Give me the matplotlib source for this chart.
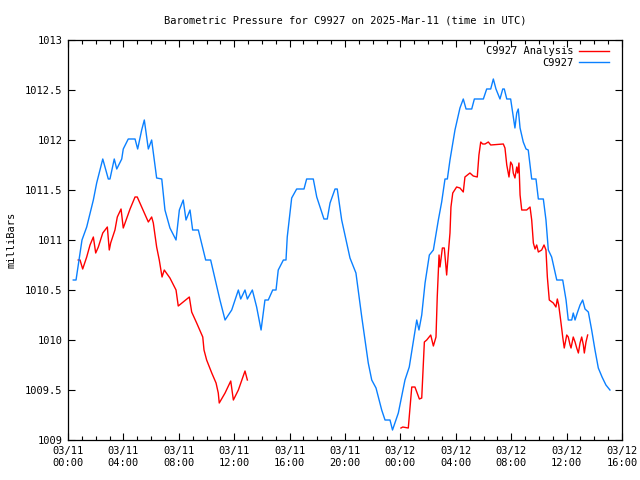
import numpy as np
import matplotlib
matplotlib.use("Agg")
import matplotlib.pyplot as plt
from matplotlib.ticker import MultipleLocator

# hours after 2025-03-11 00:00 UTC, pressure in mb
station_hours = [
    0.38, 0.58, 0.87, 1.01, 1.35, 1.83, 2.07, 2.51, 2.91, 3.03, 3.34, 3.52, 3.88, 3.99,
    4.35, 4.84, 5.03, 5.32, 5.51, 5.80, 6.04, 6.40, 6.77, 7.00, 7.36, 7.80, 8.04, 8.32,
    8.52, 8.81, 9.00, 9.41, 9.94, 10.30, 10.97, 11.34, 11.82, 12.30, 12.47, 12.78, 12.95,
    13.31, 13.62, 13.94, 14.22, 14.46, 14.78, 15.02, 15.18, 15.55, 15.74, 15.83, 16.15,
    16.51, 17.04, 17.23, 17.71, 17.96, 18.48, 18.72, 18.92, 19.28, 19.44, 19.76, 20.36,
    20.79, 21.21, 21.68, 21.93, 22.24, 22.65, 22.89, 23.25, 23.43, 23.85, 24.33, 24.64,
    24.93, 25.18, 25.34, 25.54, 25.78, 26.09, 26.38, 26.74, 26.98, 27.22, 27.39, 27.58,
    27.94, 28.30, 28.54, 28.74, 29.15, 29.34, 29.99, 30.23, 30.52, 30.71, 30.90, 31.19,
    31.39, 31.50, 31.68, 31.96, 32.11, 32.27, 32.40, 32.51, 32.64, 32.87, 33.07, 33.23,
    33.48, 33.79, 33.96, 34.32, 34.51, 34.68, 34.92, 35.29, 35.72, 35.96, 36.12, 36.37,
    36.48, 36.61, 36.77, 36.97, 37.16, 37.33, 37.57, 37.81, 38.05, 38.29, 38.56, 38.84,
    39.13,
]
station_mb = [
    1010.60, 1010.60, 1010.87, 1011.00, 1011.13, 1011.40, 1011.57, 1011.81, 1011.61,
    1011.61, 1011.81, 1011.71, 1011.81, 1011.91, 1012.01, 1012.01, 1011.91, 1012.10,
    1012.20, 1011.91, 1012.00, 1011.62, 1011.61, 1011.30, 1011.12, 1011.00, 1011.30,
    1011.40, 1011.20, 1011.30, 1011.10, 1011.10, 1010.80, 1010.80, 1010.40, 1010.20,
    1010.30, 1010.50, 1010.41, 1010.50, 1010.41, 1010.50, 1010.33, 1010.10, 1010.40,
    1010.40, 1010.50, 1010.50, 1010.70, 1010.80, 1010.80, 1011.03, 1011.42, 1011.51,
    1011.51, 1011.61, 1011.61, 1011.43, 1011.21, 1011.21, 1011.37, 1011.51, 1011.51,
    1011.20, 1010.82, 1010.67, 1010.23, 1009.77, 1009.60, 1009.52, 1009.30, 1009.20,
    1009.20, 1009.10, 1009.27, 1009.60, 1009.73, 1009.98, 1010.20, 1010.10, 1010.25,
    1010.57, 1010.85, 1010.90, 1011.20, 1011.38, 1011.61, 1011.61, 1011.80, 1012.10,
    1012.32, 1012.41, 1012.31, 1012.31, 1012.41, 1012.41, 1012.51, 1012.51, 1012.61,
    1012.51, 1012.41, 1012.51, 1012.51, 1012.41, 1012.41, 1012.27, 1012.12, 1012.27,
    1012.31, 1012.12, 1011.98, 1011.91, 1011.90, 1011.61, 1011.61, 1011.41, 1011.41,
    1011.20, 1010.90, 1010.83, 1010.60, 1010.60, 1010.40, 1010.20, 1010.20, 1010.27,
    1010.20, 1010.27, 1010.35, 1010.40, 1010.31, 1010.28, 1010.10, 1009.90, 1009.72,
    1009.63, 1009.55, 1009.50,
]

# analysis series, nan marks the gap in the data
analysis_hours = [
    0.74, 0.87, 1.06, 1.35, 1.59, 1.83, 2.00, 2.19, 2.51, 2.84, 2.98, 3.08, 3.39, 3.56,
    3.83, 3.99, 4.12, 4.48, 4.84, 5.00, 5.32, 5.80, 6.04, 6.16, 6.40, 6.59, 6.79, 6.95,
    7.36, 7.80, 7.96, 8.32, 8.76, 8.93, 9.29, 9.73, 9.82, 10.01, 10.38, 10.69, 10.85,
    10.92, 11.34, 11.75, 11.94, 12.30, 12.78, 12.95,
    18.0,
    24.04, 24.17, 24.57, 24.82, 25.05, 25.37, 25.54, 25.73, 25.90, 26.19, 26.38, 26.57,
    26.66, 26.79, 26.86, 27.03, 27.17, 27.34, 27.46, 27.58, 27.65, 27.78, 28.06, 28.30,
    28.54, 28.66, 29.02, 29.26, 29.55, 29.67, 29.80, 29.94, 30.11, 30.35, 30.52, 31.43,
    31.55, 31.68, 31.84, 31.96, 32.08, 32.15, 32.27, 32.40, 32.47, 32.56, 32.64, 32.76,
    33.12, 33.36, 33.48, 33.60, 33.72, 33.84, 33.96, 34.20, 34.37, 34.51, 34.61, 34.75,
    35.04, 35.23, 35.33, 35.43, 35.57, 35.72, 35.83, 36.01, 36.12, 36.25, 36.32, 36.48,
    36.61, 36.73, 36.85, 36.97, 37.09, 37.21, 37.28, 37.40, 37.52,
]
analysis_mb = [
    1010.80, 1010.80, 1010.71, 1010.83, 1010.95, 1011.03, 1010.87, 1010.93, 1011.07,
    1011.13, 1010.90, 1010.97, 1011.10, 1011.23, 1011.31, 1011.12, 1011.17, 1011.31,
    1011.43, 1011.43, 1011.33, 1011.18, 1011.23, 1011.17, 1010.93, 1010.80, 1010.63,
    1010.70, 1010.62, 1010.50, 1010.34, 1010.38, 1010.43, 1010.28, 1010.17, 1010.03,
    1009.90, 1009.80, 1009.67, 1009.57, 1009.47, 1009.37, 1009.47, 1009.59, 1009.40,
    1009.50, 1009.69, 1009.60,
    np.nan,
    1009.12, 1009.13, 1009.12, 1009.53, 1009.53, 1009.41, 1009.42, 1009.98, 1010.00,
    1010.05, 1009.94, 1010.03, 1010.43, 1010.85, 1010.73, 1010.92, 1010.92, 1010.65,
    1010.87, 1011.07, 1011.33, 1011.47, 1011.53, 1011.52, 1011.48, 1011.63, 1011.67,
    1011.64, 1011.63, 1011.85, 1011.98, 1011.96, 1011.96, 1011.98, 1011.95, 1011.96,
    1011.92, 1011.75, 1011.63, 1011.78, 1011.75, 1011.67, 1011.62, 1011.73, 1011.67,
    1011.77, 1011.45, 1011.30, 1011.30, 1011.33, 1011.20, 1010.97, 1010.91, 1010.95,
    1010.88, 1010.90, 1010.95, 1010.90, 1010.63, 1010.40, 1010.37, 1010.33, 1010.41,
    1010.35, 1010.20, 1010.03, 1009.92, 1010.05, 1010.03, 1009.95, 1009.92, 1010.03,
    1009.98, 1009.92, 1009.87, 1009.97, 1010.03, 1009.95, 1009.87, 1009.98, 1010.05,
]

tick_hours = list(range(0, 41, 4))
tick_labels = ["03/11\n00:00", "03/11\n04:00", "03/11\n08:00", "03/11\n12:00",
               "03/11\n16:00", "03/11\n20:00", "03/12\n00:00", "03/12\n04:00",
               "03/12\n08:00", "03/12\n12:00", "03/12\n16:00"]
ytick_vals = [1009, 1009.5, 1010, 1010.5, 1011, 1011.5, 1012, 1012.5, 1013]
ytick_labels = ["1009", "1009.5", "1010", "1010.5", "1011", "1011.5", "1012", "1012.5", "1013"]

plt.rcParams['font.family'] = ['DejaVu Sans Mono']
plt.rcParams['font.size'] = 7.5

fig = plt.figure(figsize=(6.4, 4.8), dpi=100)
ax = fig.add_axes([0.10625, 0.0833, 0.865625, 0.8334])

ax.plot(analysis_hours, analysis_mb, color='#ff0000', lw=1.0, label='C9927 Analysis')
ax.plot(station_hours, station_mb, color='#0a80ff', lw=1.0, label='C9927')

ax.set_xlim(0, 40)
ax.set_ylim(1009, 1013)
ax.set_xticks(tick_hours)
ax.set_xticklabels(tick_labels, linespacing=1.35)
ax.xaxis.set_minor_locator(MultipleLocator(1))
ax.set_yticks(ytick_vals)
ax.set_yticklabels(ytick_labels)
ax.tick_params(which='both', direction='in', top=True, right=True, width=0.8)
ax.tick_params(which='major', length=5, pad=4)
ax.tick_params(which='minor', length=3)
for s in ax.spines.values():
    s.set_linewidth(0.9)

ax.set_ylabel('milliBars', labelpad=6)
ax.set_title('Barometric Pressure for C9927 on 2025-Mar-11 (time in UTC)', pad=12, fontsize=7.5)

ax.legend(loc='upper right', bbox_to_anchor=(0.987, 1.0), frameon=False, markerfirst=False,
          handlelength=2.8, borderpad=0.4, borderaxespad=0.2, labelspacing=0.15,
          handletextpad=0.6)

fig.savefig('out.png', dpi=100)
